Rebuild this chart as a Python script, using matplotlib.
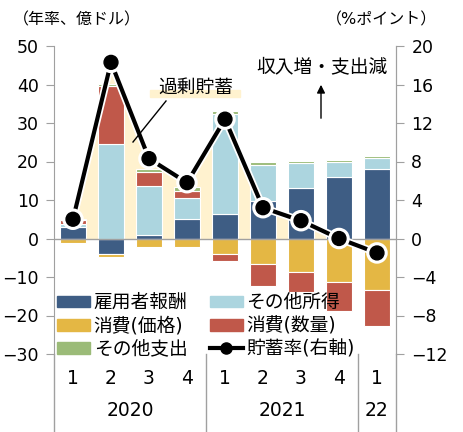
import matplotlib
matplotlib.use("Agg")
import matplotlib.pyplot as plt
import matplotlib.patheffects as pe
import matplotlib.transforms as mtransforms
from matplotlib.patches import Patch, Rectangle
from matplotlib.lines import Line2D
import numpy as np

plt.rcParams['font.family'] = ['DejaVu Sans', 'Noto Sans CJK JP']

quarters = ['1', '2', '3', '4', '1', '2', '3', '4', '1']
years = ['2020', '2021', '22']
year_span = [(0, 3), (4, 7), (8, 8)]

# 寄与 (年率、億ドル)
comp = [3.0, -4.0, 0.9, 5.1, 6.4, 9.7, 13.0, 16.1, 18.1]
other_inc = [0.8, 24.5, 12.8, 5.5, 25.9, 9.5, 6.7, 3.8, 2.9]
cons_price = [-1.2, -0.9, -2.1, -2.3, -3.9, -6.6, -8.6, -11.2, -13.4]
cons_qty = [1.1, 15.1, 3.5, 1.8, -1.9, -5.7, -5.2, -7.6, -9.2]
other_exp = [0.1, 0.6, 0.8, 1.0, 0.8, 0.7, 0.5, 0.4, 0.5]
# 貯蓄率 (%ポイント, 右軸)
saving = [2.0, 18.3, 8.3, 5.8, 12.4, 3.2, 1.85, 0.0, -1.5]

series = [
    (comp, '雇用者報酬', '#3e5d84'),
    (other_inc, 'その他所得', '#acd5df'),
    (cons_price, '消費(価格)', '#e4b744'),
    (cons_qty, '消費(数量)', '#c0584a'),
    (other_exp, 'その他支出', '#9bbb78'),
]
cream = '#fff2cf'

fig = plt.figure(figsize=(4.63, 4.32), dpi=100)
ax = fig.add_axes([54/463, 1-354/432, 342/463, 308/432])
ax2 = ax.twinx()

x = np.arange(len(quarters))
ratio = 50/20

# 過剰貯蓄 area (under savings rate line)
s = np.array(saving) * ratio
ax.fill_between(x, 0, s, where=s >= 0, interpolate=True, color=cream, lw=0, zorder=1)

pos = np.zeros(len(x))
neg = np.zeros(len(x))
for vals, name, col in series:
    v = np.array(vals)
    bottom = np.where(v >= 0, pos, neg)
    ax.bar(x, v, 0.71, bottom=bottom, color=col, edgecolor='white', linewidth=0.8, zorder=2)
    pos = pos + np.where(v >= 0, v, 0)
    neg = neg + np.where(v < 0, v, 0)

ax.axhline(0, color='#a0a0a0', lw=1, zorder=3)

ax2.plot(x, saving, color='black', lw=3, marker='o', ms=10, zorder=5,
         path_effects=[pe.Stroke(linewidth=5.5, foreground='white'), pe.Normal()])

ax.set_xlim(-0.5, 8.5)
ax.set_ylim(-30, 50)
ax2.set_ylim(-12, 20)
ax.set_yticks(range(-30, 51, 10))
ax2.set_yticks(range(-12, 21, 4))
ax.set_xticks([])

for a in (ax, ax2):
    for sp in ('top', 'bottom'):
        a.spines[sp].set_visible(False)
    a.spines['left'].set_color('#a0a0a0')
    a.spines['right'].set_color('#a0a0a0')
    a.tick_params(axis='y', color='#a0a0a0', length=6, labelsize=12.5, pad=5)
ax2.spines['left'].set_visible(False)

# x axis labels and separators
trans = mtransforms.blended_transform_factory(ax.transData, ax.transAxes)
bot = -(432-354)/308
for xs in (-0.5, 3.5, 7.5, 8.5):
    ax.plot([xs, xs], [0, bot], color='#a0a0a0', lw=1, transform=trans, clip_on=False)
for i, q in enumerate(quarters):
    ax.text(i, -(378-354)/308, q, transform=trans, ha='center', va='center', fontsize=13.5)
for yr, (a0, a1) in zip(years, year_span):
    ax.text((a0+a1)/2, -(411-354)/308, yr, transform=trans, ha='center', va='center', fontsize=13.5)

fig.text(13/463, 1-20/432, '（年率、億ドル）', ha='left', va='center', fontsize=11.5)
fig.text(437/463, 1-20/432, '（%ポイント）', ha='right', va='center', fontsize=11.5)

# annotations
fig.patches.append(Rectangle((150/463, 1-97/432), 90/463, 7/432, transform=fig.transFigure,
                             color=cream, zorder=0))
fig.text(158/463, 1-87/432, '過剰貯蓄', ha='left', va='center', fontsize=13.5)
fig.add_artist(Line2D([166/463, 133/463], [1-101/432, 1-142/432], color='black', lw=1))
fig.text(322/463, 1-67/432, '収入増・支出減', ha='center', va='center', fontsize=13.5)
ax.annotate('', xy=(321/463, 1-82/432), xytext=(321/463, 1-121/432),
            xycoords='figure fraction', textcoords='figure fraction',
            arrowprops=dict(arrowstyle='-|>', color='black', lw=1, mutation_scale=12))

handles = [
    Patch(color=series[0][2], label=series[0][1]),
    Patch(color=series[2][2], label=series[2][1]),
    Patch(color=series[4][2], label=series[4][1]),
    Patch(color=series[1][2], label=series[1][1]),
    Patch(color=series[3][2], label=series[3][1]),
    Line2D([], [], color='black', lw=3, marker='o', ms=8, label='貯蓄率(右軸)'),
]
leg = ax2.legend(handles=handles, ncol=2, loc='upper left', frameon=False,
                 bbox_to_anchor=(44/463, 1-280/432), bbox_transform=fig.transFigure,
                 fontsize=13.5, handlelength=1.75, handleheight=0.6, handletextpad=0.2,
                 columnspacing=1.2, labelspacing=0.22, borderpad=0.2)

fig.savefig('out.png', dpi=100)
